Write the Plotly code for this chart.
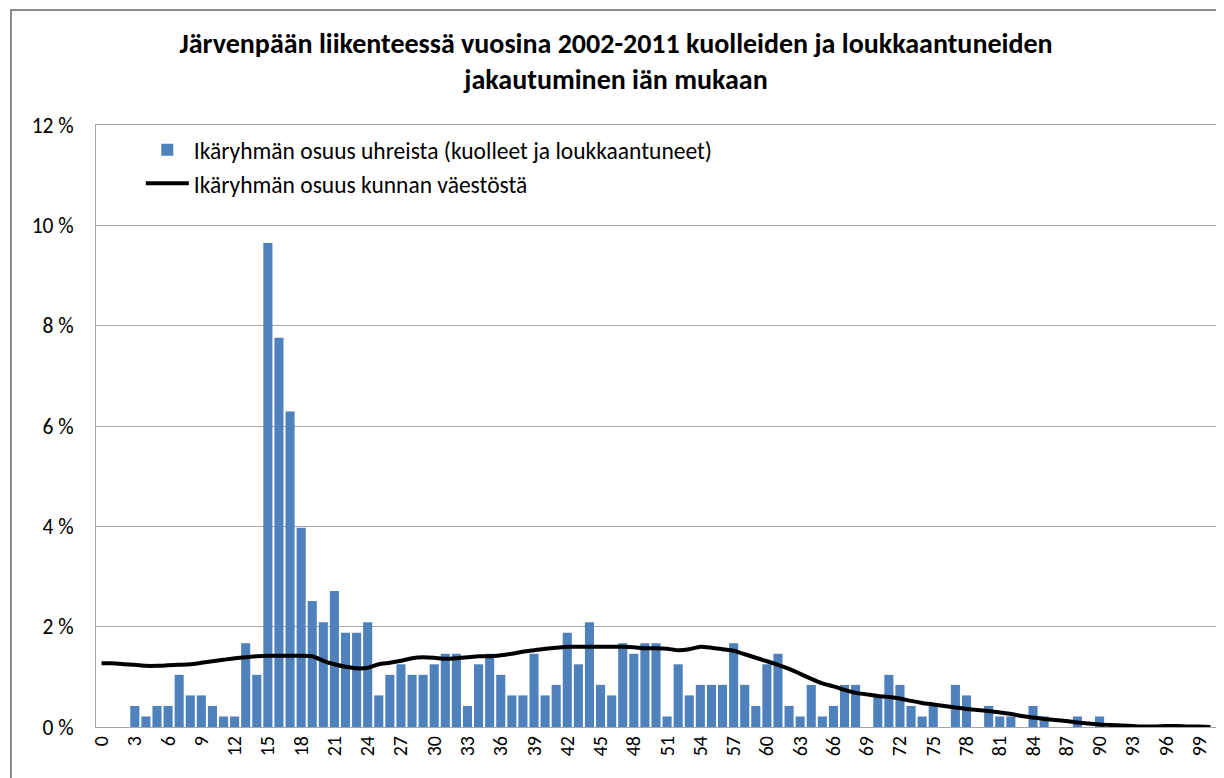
import plotly.graph_objects as go

ages = list(range(0, 101))

victims_share = [
    0, 0, 0, 0.42, 0.21, 0.42, 0.42, 1.04, 0.63, 0.63,
    0.42, 0.21, 0.21, 1.67, 1.04, 9.65, 7.76, 6.29, 3.97, 2.51,
    2.09, 2.71, 1.88, 1.88, 2.09, 0.63, 1.04, 1.25, 1.04, 1.04,
    1.25, 1.46, 1.46, 0.42, 1.25, 1.46, 1.04, 0.63, 0.63, 1.46,
    0.63, 0.84, 1.88, 1.25, 2.09, 0.84, 0.63, 1.67, 1.46, 1.67,
    1.67, 0.21, 1.25, 0.63, 0.84, 0.84, 0.84, 1.67, 0.84, 0.42,
    1.25, 1.46, 0.42, 0.21, 0.84, 0.21, 0.42, 0.84, 0.84, 0,
    0.63, 1.04, 0.84, 0.42, 0.21, 0.42, 0, 0.84, 0.63, 0,
    0.42, 0.21, 0.21, 0, 0.42, 0.21, 0, 0, 0.21, 0,
    0.21, 0, 0, 0, 0, 0, 0, 0, 0, 0,
    0,
]

population_share = [
    1.27, 1.27, 1.25, 1.24, 1.22, 1.22, 1.23, 1.24, 1.25, 1.28,
    1.31, 1.34, 1.37, 1.39, 1.41, 1.42, 1.42, 1.42, 1.42, 1.41,
    1.32, 1.25, 1.20, 1.17, 1.18, 1.25, 1.28, 1.32, 1.37, 1.39,
    1.38, 1.36, 1.37, 1.39, 1.41, 1.41, 1.43, 1.46, 1.50, 1.53,
    1.56, 1.58, 1.60, 1.60, 1.60, 1.60, 1.60, 1.60, 1.59, 1.57,
    1.57, 1.56, 1.53, 1.55, 1.60, 1.58, 1.55, 1.52, 1.45, 1.38,
    1.31, 1.24, 1.16, 1.06, 0.96, 0.87, 0.81, 0.74, 0.68, 0.65,
    0.62, 0.60, 0.57, 0.52, 0.48, 0.45, 0.42, 0.39, 0.36, 0.34,
    0.32, 0.29, 0.26, 0.22, 0.19, 0.16, 0.14, 0.12, 0.09, 0.07,
    0.05, 0.04, 0.03, 0.02, 0.01, 0.01, 0.02, 0.02, 0.01, 0.01,
    0.00,
]

x_tick_values = list(range(0, 100, 3))
y_tick_values = [0, 2, 4, 6, 8, 10, 12]

FONT = "Carlito, Lato, 'Liberation Sans', sans-serif"

fig = go.Figure()
fig.add_trace(go.Bar(
    x=ages, y=victims_share,
    name="Ikäryhmän osuus uhreista (kuolleet ja loukkaantuneet)",
    marker=dict(color="#4F81BD", line=dict(width=0)),
))
fig.add_trace(go.Scatter(
    x=ages, y=population_share, mode="lines",
    name="Ikäryhmän osuus kunnan väestöstä",
    line=dict(color="black", width=4, shape="spline", smoothing=0.6),
))

# page body has an 8px margin: figure starts at (8, 8) in the window
fig.update_layout(
    width=1216, height=770,
    margin=dict(l=88, r=8, t=117, b=51),
    paper_bgcolor="white", plot_bgcolor="white",
    font=dict(family=FONT, size=20, color="black"),
    title=dict(
        text="<b>Järvenpään liikenteessä vuosina 2002-2011 kuolleiden ja loukkaantuneiden<br>jakautuminen iän mukaan</b>",
        x=0.5, xanchor="center", y=0.942, yanchor="top",
        font=dict(family=FONT, size=28, color="black"),
    ),
    bargap=0.18,
    showlegend=True,
    legend=dict(
        x=0.04, y=0.995, xanchor="left", yanchor="top",
        bgcolor="rgba(0,0,0,0)", font=dict(family=FONT, size=23.5),
        tracegroupgap=2, itemwidth=43,
    ),
    xaxis=dict(
        range=[-0.5, 100.5], tickmode="array", tickvals=x_tick_values,
        ticktext=[str(v) for v in x_tick_values], tickangle=-90,
        showgrid=False, showline=True, linecolor="#A6A6A6", linewidth=1,
        mirror=True, ticks="", tickfont=dict(size=20),
    ),
    yaxis=dict(
        range=[0, 12], tickmode="array", tickvals=y_tick_values,
        ticktext=[f"{v} %" for v in y_tick_values],
        showgrid=True, gridcolor="#A6A6A6", gridwidth=1,
        showline=True, linecolor="#A6A6A6", linewidth=1, mirror=True,
        ticks="", zeroline=False, tickfont=dict(size=21.5),
        ticklabelstandoff=17,
    ),
    shapes=[dict(
        type="rect", xref="paper", yref="paper",
        x0=-0.0759, x1=1.05, y0=-0.3, y1=1.191,
        line=dict(color="#8C8C8C", width=2), fillcolor="rgba(0,0,0,0)",
    )],
)

fig.write_html("out.html")
